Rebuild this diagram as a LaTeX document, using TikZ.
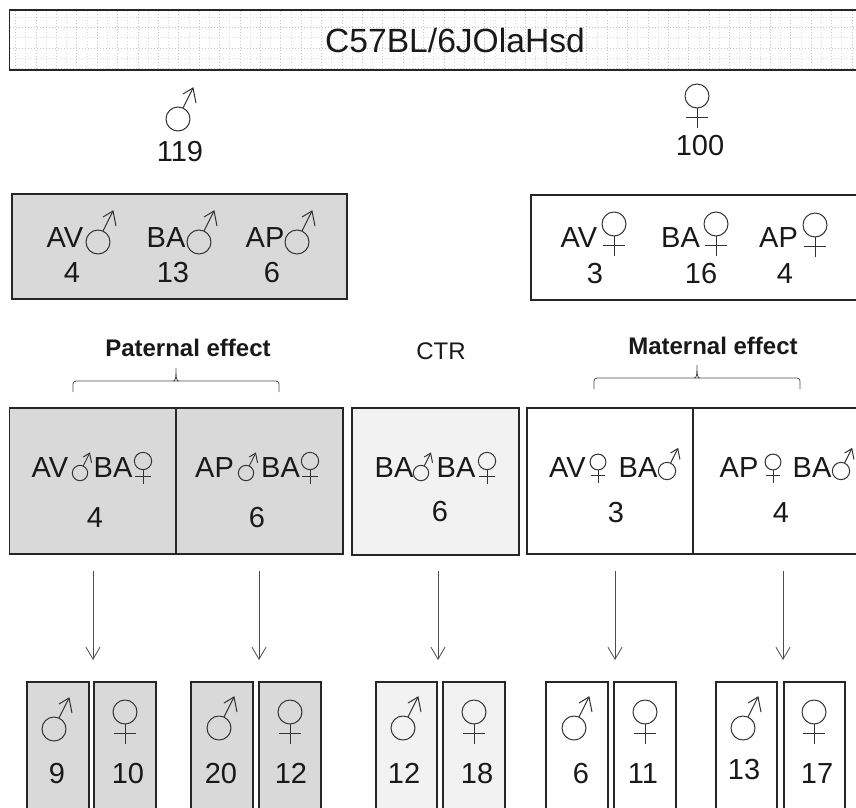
\documentclass[tikz,border=0pt]{standalone}
\usepackage{fontspec}
\setmainfont{Liberation Sans}
\usetikzlibrary{arrows.meta}
\definecolor{midgrey}{HTML}{D9D9D9}
\definecolor{palegrey}{HTML}{F2F2F2}
\definecolor{edgecol}{HTML}{262626}
\definecolor{symcol}{HTML}{333333}
\definecolor{dotcol}{HTML}{C4C4C4}
\definecolor{dotfaint}{HTML}{DCDCDC}
\tikzset{
  boxbase/.style={draw=edgecol,line width=1.4pt,anchor=north west,inner sep=0pt,outer sep=0pt},
  greybox/.style={boxbase,fill=midgrey},
  palebox/.style={boxbase,fill=palegrey},
  whitebox/.style={boxbase,fill=white},
  lab/.style={anchor=base,inner sep=0pt,font=\fontsize{29}{31}\selectfont,text=black!90},
  titlelab/.style={anchor=base,inner sep=0pt,font=\fontsize{33.6}{36}\selectfont,text=black!90},
  efflab/.style={anchor=base,inner sep=0pt,font=\fontsize{24}{26}\bfseries\selectfont,text=black!90},
  ctrlab/.style={anchor=base,inner sep=0pt,font=\fontsize{24}{26}\selectfont,text=black!90},
  flowarrow/.style={draw=black!70,line width=.8pt,-{Straight Barb[length=12pt,width=14pt,line width=.8pt]}},
  bracelines/.style={draw=black!70,line width=.8pt},
  marssym/.pic={
    \draw[symcol,line width=1pt] (0,0) circle[radius=12];
    \draw[symcol,line width=1pt] (5,-11) -- (15,-31);
    \draw[symcol,line width=1pt] (5,-25) -- (15,-31) -- (18,-16);
  },
  venussym/.pic={
    \draw[symcol,line width=1pt] (0,0) circle[radius=12];
    \draw[symcol,line width=1pt] (0,12) -- (0,32);
    \draw[symcol,line width=1pt] (-11,21) -- (11,21);
  }
}
\newcommand{\bx}[6]{\node[#1,minimum width=#5 pt-#3 pt,minimum height=#6 pt-#4 pt] (#2) at (#3,#4) {};}
\newcommand{\tx}[5][lab]{\node[#1] (#2) at (#3,#4) {#5};}
\newcommand{\bracket}[4]{% left x, right x, top y, tip y
  \draw[bracelines,rounded corners=3pt] (#1,#3+11) -- (#1,#3) -- (#2,#3) -- (#2,#3+11);
  \draw[bracelines] ({(#1+#2)/2-3},#3) .. controls ({(#1+#2)/2-.5},#3) and ({(#1+#2)/2},#3-2) .. ({(#1+#2)/2},#4)
     .. controls ({(#1+#2)/2},#3-2) and ({(#1+#2)/2+.5},#3) .. ({(#1+#2)/2+3},#3);
}
\begin{document}
\begin{tikzpicture}[x=1pt,y=-1pt]
\useasboundingbox (0,0) rectangle (856,807);
\clip (0,0) rectangle (856,807);
% title
\bx{whitebox}{titlebox}{9.5}{10}{880}{70}
\begin{scope}
\clip (10,11) rectangle (856,69.5);
\foreach \i in {0,...,82} {
  \pgfmathsetmacro{\xx}{15.7+10.2*\i}
  \pgfmathparse{int(mod(\i,2))}
  \ifnum\pgfmathresult=0 \def\dc{dotcol}\else\def\dc{dotfaint}\fi
  \draw[\dc,line width=1pt,dash pattern=on 1pt off 2pt] (\xx,11) -- (\xx,69);
}
\foreach \yy/\dc in {17/dotfaint,27/dotcol,37/dotfaint,48/dotcol,58/dotfaint,68/dotcol} {
  \draw[\dc,line width=1pt,dash pattern=on 1pt off 2pt] (10,\yy) -- (856,\yy);
}
\end{scope}
\tx[titlelab]{title}{455}{52}{C57BL/6JOlaHsd}
% founders
\pic at (178,119) {marssym};
\tx{n119}{180}{161}{119}
\pic at (697,96) {venussym};
\tx{n100}{700}{155}{100}
% upper boxes
\bx{greybox}{malebox}{12}{194}{347}{299}
\bx{whitebox}{femalebox}{531}{195}{880}{300}
\tx{mav}{65}{247}{AV}\pic at (98,242) {marssym};
\tx{mba}{166}{247}{BA}\pic at (199,242) {marssym};
\tx{map}{265}{247}{AP}\pic at (297,242) {marssym};
\tx{mn1}{72}{282}{4}\tx{mn2}{173}{282}{13}\tx{mn3}{272}{282}{6}
\tx{fav}{579}{247}{AV}\pic at (614,224) {venussym};
\tx{fba}{680.5}{247}{BA}\pic at (716,224) {venussym};
\tx{fap}{778.5}{247}{AP}\pic at (815,225) {venussym};
\tx{fn1}{595}{283}{3}\tx{fn2}{701}{283}{16}\tx{fn3}{785}{283}{4}
% effect headings
\tx[efflab]{patlab}{188}{356}{Paternal effect}
\tx[ctrlab]{ctrlabel}{441}{359}{CTR}
\tx[efflab]{matlab}{713}{354}{Maternal effect}
\bracket{73}{279}{381}{368}
\bracket{594}{800}{378}{365}
% crosses
\bx{greybox}{patA}{9.5}{408}{176}{554}
\bx{greybox}{patB}{176}{408}{343}{554}
\bx{palebox}{ctrbox}{352}{408}{519}{555}
\bx{whitebox}{matA}{527}{408}{693}{554}
\bx{whitebox}{matB}{693}{408}{880}{554}
\tx{a1}{50}{477}{AV}\pic[scale=.64] at (80,473) {marssym};
\tx{a2}{113}{477}{BA}\pic[scale=.72] at (143,461) {venussym};
\tx{a3}{95}{527}{4}
\tx{b1}{214.5}{477}{AP}\pic[scale=.64] at (246,473) {marssym};
\tx{b2}{280.5}{477}{BA}\pic[scale=.72] at (310,461) {venussym};
\tx{b3}{257}{527}{6}
\tx{c1}{394}{477}{BA}\pic[scale=.64] at (421,473) {marssym};
\tx{c2}{456}{477}{BA}\pic[scale=.72] at (487,461) {venussym};
\tx{c3}{440}{521}{6}
\tx{d1}{567.5}{477}{AV}\pic[scale=.66] at (598,462) {venussym};
\tx{d2}{638}{477}{BA}\pic[scale=.72] at (667,471) {marssym};
\tx{d3}{616}{522}{3}
\tx{e1}{739}{477}{AP}\pic[scale=.66] at (773,462) {venussym};
\tx{e2}{812}{477}{BA}\pic[scale=.72] at (841,471) {marssym};
\tx{e3}{781}{522}{4}
% connectors
\foreach \nm/\xx in {1/93,2/259,3/438,4/615,5/783} {
  \coordinate (s\nm) at (\xx,571);
  \coordinate (t\nm) at (\xx,660);
  \draw[flowarrow] (s\nm) -- (t\nm);
}
% offspring
\bx{greybox}{o1}{27}{682}{89}{815}
\bx{greybox}{o2}{94}{682}{156}{815}
\bx{greybox}{o3}{191}{682}{253}{815}
\bx{greybox}{o4}{259}{682}{321}{815}
\bx{palebox}{o5}{376}{682}{437}{815}
\bx{palebox}{o6}{443}{682}{505}{815}
\bx{whitebox}{o7}{546}{682}{608}{815}
\bx{whitebox}{o8}{614}{682}{676}{815}
\bx{whitebox}{o9}{716}{682}{777}{815}
\bx{whitebox}{o10}{784}{682}{845}{815}
\pic at (54,729) {marssym};\tx{q1}{57}{783}{9}
\pic at (125,712) {venussym};\tx{q2}{128}{783}{10}
\pic at (219,728) {marssym};\tx{q3}{221}{783}{20}
\pic at (290,712) {venussym};\tx{q4}{291}{783}{12}
\pic at (403,728) {marssym};\tx{q5}{404}{783}{12}
\pic at (474,712) {venussym};\tx{q6}{477}{783}{18}
\pic at (574,728) {marssym};\tx{q7}{581}{783}{6}
\pic at (645,712) {venussym};\tx{q8}{643}{783}{11}
\pic at (743,728) {marssym};\tx{q9}{744}{779}{13}
\pic at (814,712) {venussym};\tx{q10}{817}{783}{17}
\end{tikzpicture}
\end{document}
